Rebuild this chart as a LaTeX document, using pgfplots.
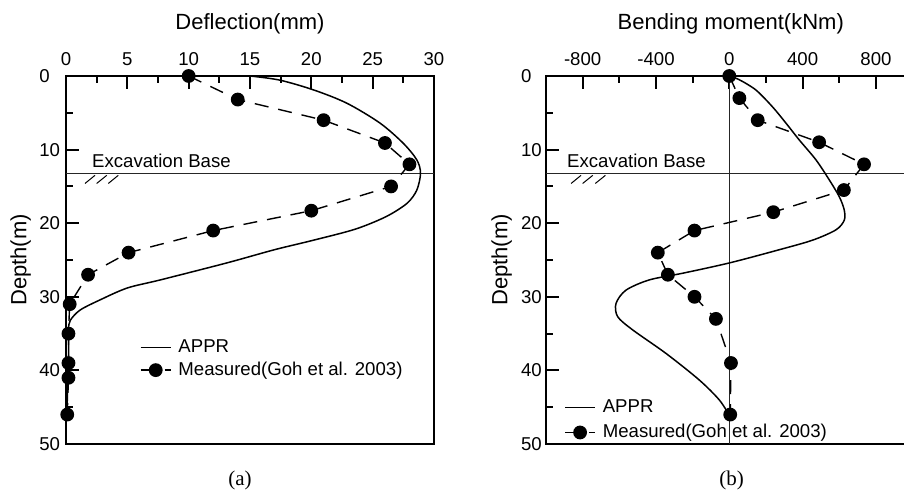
\documentclass[border=0pt]{standalone}
\usepackage{fontspec}
\setmainfont{Liberation Sans}
\newfontfamily\capfont{Liberation Serif}
\usepackage{pgfplots}
\pgfplotsset{compat=1.18}

\newcommand\lbl{\fontsize{9.3}{11}\selectfont}
\newcommand\ttl{\fontsize{11}{13}\selectfont}

\pgfplotsset{
  wall/.style={
    scale only axis, height=184pt,
    ymin=0, ymax=50, y dir=reverse,
    axis line style={line width=1.3pt},
    tick align=inside,
    xtick pos=right, xticklabel pos=right,
    ytick pos=left, yticklabel pos=left,
    major tick length=6.3pt, minor tick length=3.6pt,
    every tick/.style={black, line width=1pt},
    ytick={0,10,...,50}, yticklabels={0,10,20,30,40,50}, minor y tick num=1,
    tick label style={font=\lbl, inner sep=0pt},
    xticklabel style={anchor=south, yshift=4.9pt},
    clip=false,
    legend cell align=left,
    legend image code/.code={\draw[mark repeat=2,mark phase=2] plot coordinates {(0pt,0pt) (7.5pt,0pt) (15pt,0pt)};},
    legend style={draw=none, fill=none, inner sep=0pt, outer sep=0pt,
      anchor=north west, font=\lbl,
      nodes={inner sep=0pt, text depth=0.15em}, column sep=3.5pt},
  },
  appr/.style={black, line width=0.75pt, smooth},
  meas/.style={black, line width=0.7pt, dash pattern=on 7pt off 5pt,
    mark=*, mark size=3.1pt, mark options={solid, fill=black}},
  ref/.style={black!85, line width=0.5pt, forget plot},
}

\begin{document}
\begin{tikzpicture}

% (a) deflection
\begin{axis}[wall, at={(33pt,24.5pt)}, anchor=south west, width=184pt,
  xmin=0, xmax=30, xtick={0,5,...,30}, xticklabels={0,5,10,15,20,25,30},
  minor x tick num=1,
  yticklabel style={anchor=west, xshift=-13.5pt},
  legend style={at={(axis cs:6.03,35.8)}, row sep=3.3pt}]
\addplot[ref] coordinates {(0,13.3) (30,13.3)};
\addplot[appr] coordinates {
  (15.0,0) (17.4,0.55) (20.2,1.9) (22.9,3.7) (25.6,6.4) (27.5,9.15)
  (28.6,11.4) (28.9,13.2) (28.6,15.5) (27.8,17.3) (26.1,19.1) (23.6,20.8)
  (20.2,22.3) (17.0,23.6) (13.1,25.4) (7.7,27.7) (5.0,28.8) (2.8,30.4)
  (1.15,31.8) (0.35,33.2) (0.2,34.5) (0.22,37) (0.2,40) (0.12,43) (0.08,46)};
\addlegendentry{APPR}
\addplot[meas] coordinates {
  (10,0) (14,3.2) (21,6) (26,9.1) (28,12) (26.5,15) (20,18.3) (12,21)
  (5.1,24) (1.8,27) (0.3,31) (0.2,35) (0.2,39) (0.2,41) (0.1,46)};
\addlegendentry{Measured(Goh et al. 2003)}
\draw[line width=0.5pt] (axis cs:1.55,14.6) -- (axis cs:2.36,13.5)
  (axis cs:2.50,14.6) -- (axis cs:3.32,13.5)
  (axis cs:3.45,14.6) -- (axis cs:4.26,13.5);
\end{axis}

% (b) bending moment
\begin{axis}[wall, at={(273pt,24.5pt)}, anchor=south west, width=183.3pt,
  xmin=-1000, xmax=1000, xtick={-800,-400,0,400,800},
  xticklabels={-800,-400,0,400,800},
  minor xtick={-1000,-600,-200,200,600,1000},
  yticklabel style={anchor=west, xshift=-12.7pt},
  legend style={at={(axis cs:-900,44.0)}, row sep=4.3pt}]
\addplot[ref] coordinates {(-1000,13.3) (1000,13.3)};
\addplot[ref] coordinates {(0,0) (0,50)};
\addplot[appr] coordinates {
  (0,0) (54,0.5) (145,1.9) (236,4.2) (309,6.4) (382,8.7) (473,11.4)
  (545,14.1) (600,16.4) (627,18.2) (627,19.6) (582,20.9) (455,22.3)
  (273,23.6) (0,25.4) (-255,26.8) (-436,27.7) (-564,29.1) (-618,30.9)
  (-609,32.7) (-527,34.5) (-345,37.7) (-164,41.3) (-55,44.0) (0,46.1)};
\addlegendentry{APPR}
\addplot[meas] coordinates {
  (0,0) (55,3) (155,6) (490,9) (735,12) (625,15.5) (240,18.5) (-190,21)
  (-390,24) (-335,27) (-190,30) (-73,33) (9,39) (5,46)};
\addlegendentry{Measured(Goh et al. 2003)}
\draw[line width=0.5pt] (axis cs:-863,14.6) -- (axis cs:-809,13.5)
  (axis cs:-800,14.6) -- (axis cs:-745,13.5)
  (axis cs:-731,14.6) -- (axis cs:-676,13.5);
\end{axis}

\node[font=\ttl] at (125pt,234.5pt) {Deflection(mm)};
\node[font=\ttl] at (365.4pt,234.5pt) {Bending moment(kNm)};
\node[font=\ttl, rotate=90] at (10.35pt,116.5pt) {Depth(m)};
\node[font=\ttl, rotate=90] at (250.85pt,116.5pt) {Depth(m)};
\node[font=\lbl, anchor=base west, inner sep=0pt] at (45.9pt,162.85pt) {Excavation Base};
\node[font=\lbl, anchor=base west, inner sep=0pt] at (283.4pt,162.5pt) {Excavation Base};
\node[font=\capfont\fontsize{10.5}{12}\selectfont] at (120pt,6.5pt) {(a)};
\node[font=\capfont\fontsize{10.5}{12}\selectfont] at (365.85pt,6.5pt) {(b)};

\pgfresetboundingbox
\path[use as bounding box] (0,0) rectangle (452pt,246.5pt);
\end{tikzpicture}
\end{document}
